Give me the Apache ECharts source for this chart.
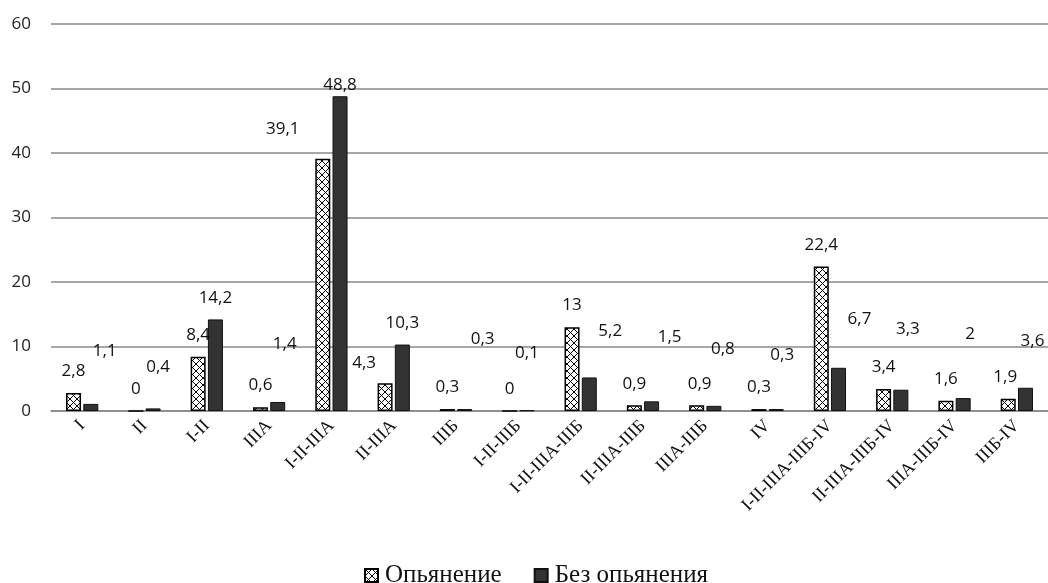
<!DOCTYPE html>
<html>
<head>
<meta charset="utf-8">
<script src="https://cdn.jsdelivr.net/npm/echarts@6/dist/echarts.min.js"></script>
<style>
html,body{margin:0;padding:0;background:#fff;}
#chart{width:1048px;height:583px;}
</style>
</head>
<body>
<div id="chart"></div>
<script>
const categories = ['I','II','I-II','IIIA','I-II-IIIA','II-IIIA','IIIБ','I-II-IIIБ','I-II-IIIA-IIIБ','II-IIIA-IIIБ','IIIA-IIIБ','IV','I-II-IIIA-IIIБ-IV','II-IIIA-IIIБ-IV','IIIA-IIIБ-IV','IIIБ-IV'];
const seriesNames = ['Опьянение','Без опьянения'];
const intoxicated = [2.8,0,8.4,0.6,39.1,4.3,0.3,0,13,0.9,0.9,0.3,22.4,3.4,1.6,1.9];
const sober = [1.1,0.4,14.2,1.4,48.8,10.3,0.3,0.1,5.2,1.5,0.8,0.3,6.7,3.3,2,3.6];
const yTicks = {min:0, max:60, interval:10};

// label placement styling (pixel shifts from default top position)
const labelShiftA = [[0,0],[0,0],[0,0],[0,0],[-40,-8],[-21,1],[0,0],[0,0],[0,0],[0,0],[3,0],[0,0],[0,0],[0,0],[0,0],[-3,0]];
const labelShiftB = [[14,-31],[5,-20],[0,0],[7,-36],[0,10],[0,0],[18,-48],[0,-36],[21,-25],[18,-43],[9,-35],[6,-32],[21,-27],[7,-39],[7,-42],[7,-25]];

function hatch(){
  const c = document.createElement('canvas');
  c.width = 7; c.height = 7;
  const g = c.getContext('2d');
  g.fillStyle = '#fff'; g.fillRect(0,0,7,7);
  g.strokeStyle = '#000'; g.lineWidth = 1;
  g.beginPath();
  g.moveTo(0,0); g.lineTo(7,7);
  g.moveTo(7,0); g.lineTo(0,7);
  g.stroke();
  return c;
}
const fmt = p => String(p.value).replace('.', ',');
const labelBase = {show:true, position:'top', distance:13, fontFamily:'Open Sans', fontSize:17, lineHeight:17, color:'#111', formatter: fmt};

function mk(values, shifts){
  return values.map((v,i)=>({value:v, label:{offset:shifts[i]}}));
}

const chart = echarts.init(document.getElementById('chart'), null, {renderer:'canvas'});
chart.setOption({
  animation:false,
  grid:{left:51, right:0, top:24, bottom:172},
  legend:{
    top:558, left:359, itemWidth:13, itemHeight:13, itemGap:32, icon:'rect',
    textStyle:{fontFamily:'Liberation Serif', fontSize:25, color:'#111', padding:[0,0,0,2]},
    data:seriesNames
  },
  xAxis:{
    type:'category', data:categories,
    axisTick:{show:false},
    axisLine:{lineStyle:{color:'#888', width:1.5}},
    axisLabel:{show:true, interval:0, rotate:45, margin:12, fontFamily:'Liberation Serif', fontSize:18, color:'#111'}
  },
  yAxis:{
    type:'value', min:yTicks.min, max:yTicks.max, interval:yTicks.interval,
    axisLine:{show:false}, axisTick:{show:false},
    splitLine:{lineStyle:{color:'#8a8a8a', width:1.5}},
    axisLabel:{margin:20, fontFamily:'Open Sans', fontSize:17, color:'#222'}
  },
  series:[
    {name:seriesNames[0], type:'bar', barWidth:15, barGap:'15%',
     data:mk(intoxicated, labelShiftA),
     itemStyle:{color:{image:hatch(), repeat:'repeat'}, borderColor:'#000', borderWidth:1.5},
     label:labelBase},
    {name:seriesNames[1], type:'bar', barWidth:15, barGap:'15%',
     data:mk(sober, labelShiftB),
     itemStyle:{color:'#333', borderColor:'#111', borderWidth:1},
     label:labelBase}
  ]
});
</script>
</body>
</html>
